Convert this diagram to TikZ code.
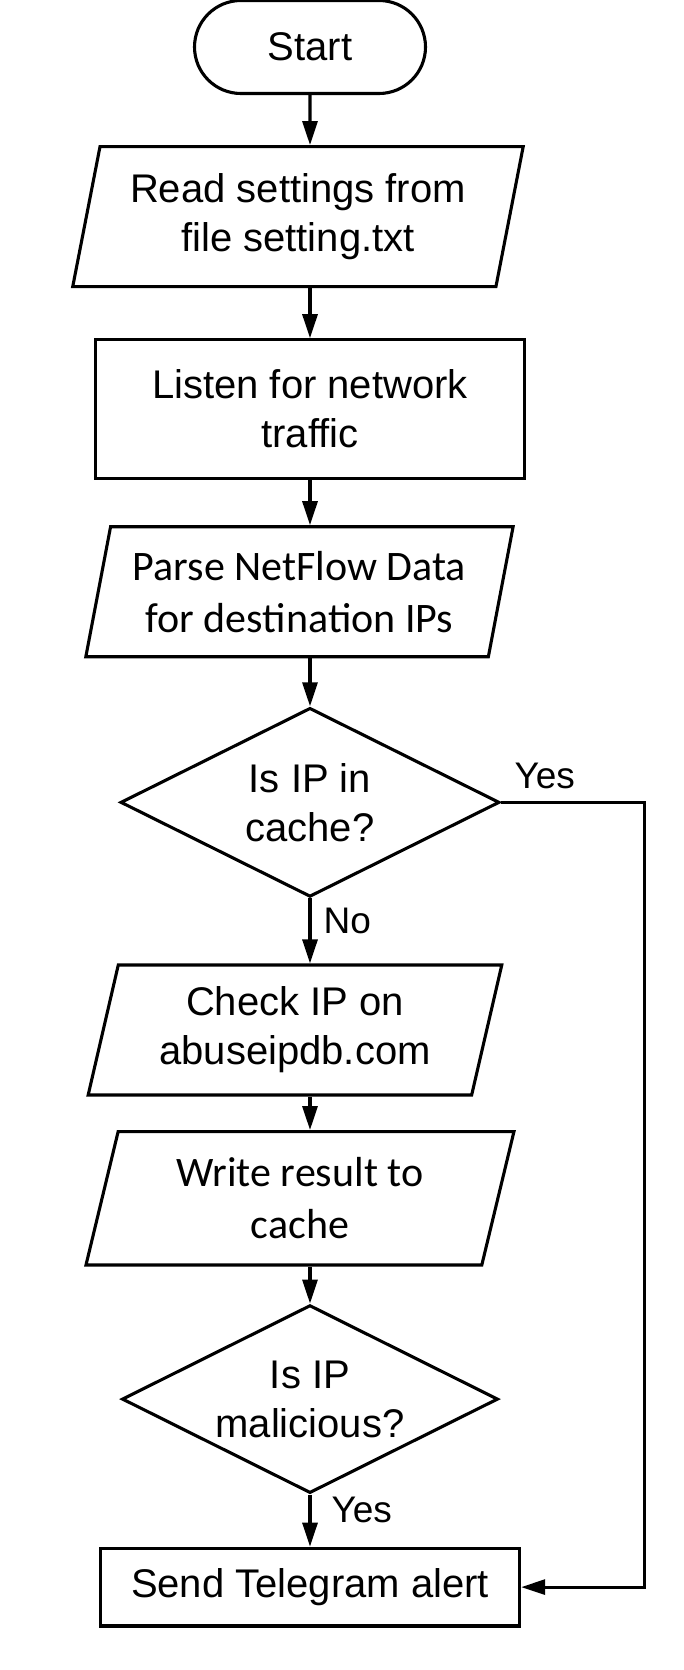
\documentclass[tikz,border=0pt]{standalone}
\usepackage{fontspec}
\setmainfont{Liberation Sans}
\newfontfamily\calibri{Carlito}
\usetikzlibrary{shapes.geometric,shapes.misc,positioning,arrows.meta}

\tikzset{
  base/.style={draw, line width=3.1pt, align=center, inner sep=0pt},
  terminal/.style={base, rounded rectangle, minimum width=231pt, minimum height=93pt},
  io/.style={base, trapezium, trapezium left angle=75, trapezium right angle=105, trapezium stretches=true},
  process/.style={base, rectangle},
  decision/.style={base, diamond, aspect=2},
  calib/.style={font=\calibri\fontsize{42}{52}\selectfont},
  lbl/.style={font=\fontsize{37}{40}\selectfont, inner sep=12pt},
}

\begin{document}
\begin{tikzpicture}[font=\fontsize{40}{49}\selectfont, >={Triangle[length=24pt,width=15pt]}, line width=3.1pt]
\useasboundingbox (0,0) rectangle (683pt,-1670pt);
\node[terminal] (start) at (310pt,-47pt) {Start};
\node[io, minimum width=452pt, minimum height=140pt, below=50pt of start, xshift=-12pt] (read) {Read settings from\\file setting.txt};
\node[process, minimum width=428.6pt, minimum height=138.4pt, below=50pt of read, xshift=12pt] (listen) {Listen for network\\traffic};
\node[io, calib, minimum width=429.5pt, minimum height=130pt, below=45.5pt of listen, xshift=-10.5pt] (parse) {Parse NetFlow Data\\for destination IPs};
\node[decision, minimum width=379pt, minimum height=189pt, below=48pt of parse, xshift=10.5pt] (cache) {Is IP in\\cache?};
\node[io, minimum width=414.4pt, minimum height=130pt, below=65pt of cache, xshift=-15pt] (check) {Check IP on\\abuseipdb.com};
\node[io, calib, minimum width=429pt, minimum height=133.4pt, below=33.5pt of check, xshift=5pt] (write) {Write result to\\cache};
\node[decision, minimum width=376pt, minimum height=188pt, below=37pt of write, xshift=10pt] (malicious) {Is IP\\malicious?};
\node[process, minimum width=419.3pt, minimum height=77.8pt, below=52pt of malicious] (alert) {Send Telegram alert};
\coordinate[right=143pt of cache.east] (yesbend);

\path[->] (start) edge (read.north -| start);
\path[->] (read.south -| listen) edge (listen);
\path[->] (listen) edge (parse.north -| listen);
\path[->] (parse.south -| cache) edge (cache);
\path[->] (cache) edge node[lbl, right, pos=0.35] {No} (check.north -| cache);
\path[->] (check.south -| cache) edge (write.north -| cache);
\path[->] (write.south -| malicious) edge (malicious);
\path[->] (malicious) edge node[lbl, right, pos=0.3, xshift=8pt] {Yes} (alert);
\draw[->] (cache.east) -- node[lbl, pos=0, above right] {Yes} (yesbend) |- (alert.east);
\end{tikzpicture}
\end{document}
